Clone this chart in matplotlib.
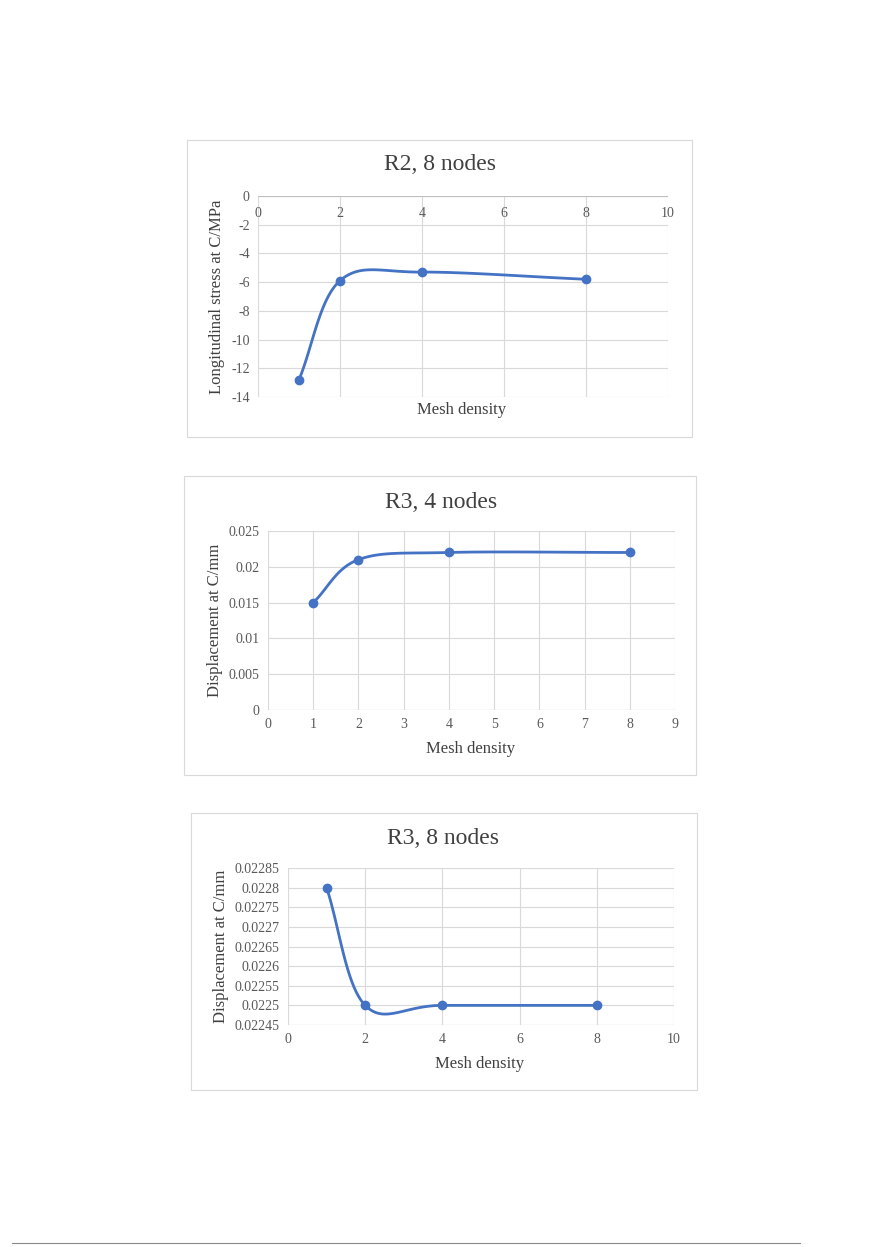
import numpy as np
import matplotlib
matplotlib.use("Agg")
from matplotlib import pyplot as plt
from matplotlib.patches import Rectangle

plt.rcParams["font.family"] = "Liberation Serif"
plt.rcParams["axes.unicode_minus"] = False

W, H = 880, 1247

# data
mesh = [1, 2, 4, 8]
r2_8_stress = [-12.8, -5.9, -5.3, -5.8]
r3_4_disp = [0.015, 0.021, 0.022, 0.022]
r3_8_disp = [0.0228, 0.0225, 0.0225, 0.0225]

BLUE = "#4472C4"
GRID = "#d9d9d9"
TXT = "#595959"


def smooth(x, y, n=40):
    # Catmull-Rom style smoothing, like Excel's smoothed line
    x = np.asarray(x, float)
    y = np.asarray(y, float)
    px = np.concatenate([[2 * x[0] - x[1]], x, [2 * x[-1] - x[-2]]])
    py = np.concatenate([[2 * y[0] - y[1]], y, [2 * y[-1] - y[-2]]])
    xs, ys = [], []
    for i in range(1, len(px) - 2):
        t = np.linspace(0, 1, n)
        p0, p1, p2, p3 = [np.array([px[j], py[j]]) for j in range(i - 1, i + 3)]
        m1 = (p2 - p0) / 6
        m2 = (p3 - p1) / 6
        b1, b2 = p1 + m1, p2 - m2
        pts = ((1 - t)[:, None] ** 3 * p1 + 3 * ((1 - t) ** 2 * t)[:, None] * b1
               + 3 * ((1 - t) * t ** 2)[:, None] * b2 + (t ** 3)[:, None] * p2)
        xs.extend(pts[:, 0])
        ys.extend(pts[:, 1])
    return xs, ys


def box(fig, x0, y0, x1, y1):
    fig.patches.append(Rectangle((x0 / W, 1 - y1 / H), (x1 - x0) / W, (y1 - y0) / H,
                                 transform=fig.transFigure, fill=False,
                                 edgecolor="#d9d9d9", linewidth=0.8))


def make_ax(fig, x0, y0, x1, y1):
    ax = fig.add_axes([x0 / W, 1 - y1 / H, (x1 - x0) / W, (y1 - y0) / H])
    for s in ax.spines.values():
        s.set_visible(False)
    ax.grid(True, color=GRID, linewidth=0.8)
    ax.set_axisbelow(True)
    ax.tick_params(length=0, labelsize=10, labelcolor=TXT, pad=6)
    return ax


fig = plt.figure(figsize=(W / 100, H / 100), dpi=100)

# chart 1
box(fig, 187, 140, 692, 437)
ax = make_ax(fig, 258, 196, 668, 397)
ax.set_xlim(0, 10)
ax.set_ylim(-14, 0)
ax.set_xticks(range(0, 11, 2))
ax.set_yticks(range(-14, 1, 2))
ax.xaxis.tick_top()
ax.tick_params(axis="x", pad=-17)
ax.axhline(0, color="#bfbfbf", linewidth=0.8)
sx, sy = smooth(mesh, r2_8_stress)
ax.plot(sx, sy, color=BLUE, linewidth=2)
ax.plot(mesh, r2_8_stress, "o", color=BLUE, markersize=6)
ax.set_ylabel("Longitudinal stress at C/MPa", fontsize=12, color="#404040")
fig.text(462 / W, 1 - 410 / H, "Mesh density", ha="center", va="center", fontsize=12, color="#404040")
fig.text(440 / W, 1 - 165 / H, "R2, 8 nodes", ha="center", va="center", fontsize=17, color="#404040")

# chart 2
box(fig, 184, 476, 696, 775)
ax = make_ax(fig, 268, 531, 675, 710)
ax.set_xlim(0, 9)
ax.set_ylim(0, 0.025)
ax.set_xticks(range(0, 10))
ax.set_yticks([0, 0.005, 0.01, 0.015, 0.02, 0.025])
ax.set_yticklabels(["0", "0.005", "0.01", "0.015", "0.02", "0.025"])
ax.axhline(0, color="#bfbfbf", linewidth=0.8)
sx, sy = smooth(mesh, r3_4_disp)
ax.plot(sx, sy, color=BLUE, linewidth=2)
ax.plot(mesh, r3_4_disp, "o", color=BLUE, markersize=6)
ax.set_ylabel("Displacement at C/mm", fontsize=12, color="#404040")
fig.text(471 / W, 1 - 749 / H, "Mesh density", ha="center", va="center", fontsize=12, color="#404040")
fig.text(441 / W, 1 - 502 / H, "R3, 4 nodes", ha="center", va="center", fontsize=17, color="#404040")

# chart 3
box(fig, 191, 813, 697, 1090)
ax = make_ax(fig, 288, 868, 674, 1025)
ax.set_xlim(0, 10)
ax.set_ylim(0.02245, 0.02285)
ax.set_xticks(range(0, 11, 2))
yt = [0.02245, 0.0225, 0.02255, 0.0226, 0.02265, 0.0227, 0.02275, 0.0228, 0.02285]
ax.set_yticks(yt)
ax.set_yticklabels([f"{v:.5f}".rstrip("0") for v in yt])
ax.axhline(0.02245, color="#bfbfbf", linewidth=0.8)
sx, sy = smooth(mesh, r3_8_disp)
ax.plot(sx, sy, color=BLUE, linewidth=2)
ax.plot(mesh, r3_8_disp, "o", color=BLUE, markersize=6)
ax.set_ylabel("Displacement at C/mm", fontsize=12, color="#404040")
fig.text(480 / W, 1 - 1064 / H, "Mesh density", ha="center", va="center", fontsize=12, color="#404040")
fig.text(443 / W, 1 - 839 / H, "R3, 8 nodes", ha="center", va="center", fontsize=17, color="#404040")

# page footer line
fig.add_artist(plt.Line2D([12 / W, 800 / W], [1 - 1243 / H] * 2, color="#888888", linewidth=0.8))

fig.savefig("out.png", dpi=100)
